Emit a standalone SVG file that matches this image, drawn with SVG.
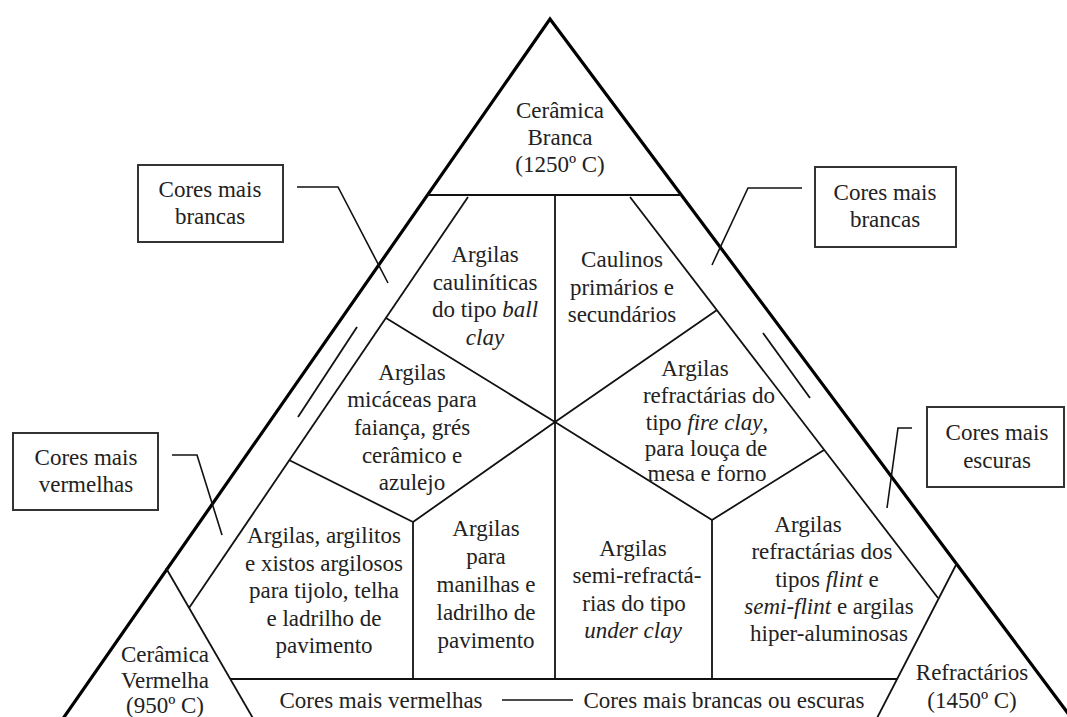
<svg xmlns="http://www.w3.org/2000/svg" width="1067" height="717" viewBox="0 0 1067 717">
<style>
.outer{fill:none;stroke:#000;stroke-width:3.2;stroke-linejoin:miter}
.ln{fill:none;stroke:#111;stroke-width:1.8}
.cl{fill:none;stroke:#111;stroke-width:1.6}
.box{fill:#fff;stroke:#333;stroke-width:2}
text{font-family:"Liberation Serif","Times New Roman",serif;font-size:23px;fill:#222;text-anchor:middle}
.i{font-style:italic}
</style>
<rect width="1067" height="717" fill="#fff"/>
<g id="connectors">
<path class="outer" d="M62,720 L550,19 L1073,720"/>
<path class="ln" d="M427,195 H681"/>
<path class="ln" d="M468,197 L189,608"/>
<path class="ln" d="M630,197 L938,598"/>
<path class="ln" d="M555,195 V679"/>
<path class="ln" d="M386,318 L555,422 L712,520"/>
<path class="ln" d="M717,310 L555,422 L413,522"/>
<path class="ln" d="M289,460 L413,522 V679"/>
<path class="ln" d="M824,450 L712,520 V679"/>
<path class="ln" d="M230,679 H897"/>
<path class="ln" d="M166,568 L254,720"/>
<path class="ln" d="M957,563 L876,720"/>
<path class="ln" d="M357,327 L298,417"/>
<path class="ln" d="M763,333 L810,398"/>
<path class="cl" d="M297,187 H338 L388,283"/>
<path class="cl" d="M802,188 H748 L712,265"/>
<path class="cl" d="M172,455 H197 L222,535"/>
<path class="cl" d="M912,428 H898 L887,508"/>
<path class="cl" d="M502,700 H573"/>
</g>
<g id="ceramica-branca">
<text x="560" y="118">Cerâmica</text>
<text x="560" y="145">Branca</text>
<text x="560" y="172">(1250º C)</text>
</g>
<g id="ball-clay">
<text x="485" y="262">Argilas</text>
<text x="485" y="290">cauliníticas</text>
<text x="485" y="317">do tipo <tspan class="i">ball</tspan></text>
<text x="485" y="345" class="i">clay</text>
</g>
<g id="caulinos">
<text x="622" y="267">Caulinos</text>
<text x="622" y="295">primários e</text>
<text x="622" y="322">secundários</text>
</g>
<g id="micaceas">
<text x="412" y="380">Argilas</text>
<text x="412" y="407">micáceas para</text>
<text x="412" y="435">faiança, grés</text>
<text x="412" y="463">cerâmico e</text>
<text x="412" y="490">azulejo</text>
</g>
<g id="fire-clay">
<text x="695" y="376">Argilas</text>
<text x="709" y="403">refractárias do</text>
<text x="707" y="430">tipo <tspan class="i">fire clay</tspan>,</text>
<text x="706" y="456">para louça de</text>
<text x="707" y="481">mesa e forno</text>
</g>
<g id="tijolo">
<text x="324" y="543">Argilas, argilitos</text>
<text x="324" y="571">e xistos argilosos</text>
<text x="324" y="598">para tijolo, telha</text>
<text x="324" y="626">e ladrilho de</text>
<text x="324" y="653">pavimento</text>
</g>
<g id="manilhas">
<text x="486" y="536">Argilas</text>
<text x="486" y="564">para</text>
<text x="486" y="592">manilhas e</text>
<text x="486" y="620">ladrilho de</text>
<text x="486" y="648">pavimento</text>
</g>
<g id="under-clay">
<text x="633" y="556">Argilas</text>
<text x="637" y="583">semi-refractá-</text>
<text x="634" y="611">rias do tipo</text>
<text x="633" y="638" class="i">under clay</text>
</g>
<g id="flint">
<text x="808" y="532">Argilas</text>
<text x="822" y="559">refractárias dos</text>
<text x="827" y="587">tipos <tspan class="i">flint</tspan>  e</text>
<text x="829" y="614"><tspan class="i">semi-flint</tspan> e argilas</text>
<text x="829" y="641">hiper-aluminosas</text>
</g>
<g id="ceramica-vermelha">
<text x="165" y="662">Cerâmica</text>
<text x="165" y="688">Vermelha</text>
<text x="165" y="713">(950º C)</text>
</g>
<g id="refractarios">
<text x="972" y="680">Refractários</text>
<text x="972" y="708">(1450º C)</text>
</g>
<g id="bottom-band">
<text x="381" y="708">Cores mais vermelhas</text>
<text x="724" y="708">Cores mais brancas ou escuras</text>
</g>
<g id="box-tl">
<rect class="box" x="138" y="165" width="145" height="77"/>
<text x="210" y="197">Cores mais</text>
<text x="210" y="224">brancas</text>
</g>
<g id="box-tr">
<rect class="box" x="815" y="167" width="141" height="80"/>
<text x="885" y="200">Cores mais</text>
<text x="885" y="227">brancas</text>
</g>
<g id="box-l">
<rect class="box" x="13" y="433" width="145" height="77"/>
<text x="86" y="465">Cores mais</text>
<text x="86" y="492">vermelhas</text>
</g>
<g id="box-r">
<rect class="box" x="927" y="407" width="137" height="80"/>
<text x="997" y="440">Cores mais</text>
<text x="997" y="468">escuras</text>
</g>
</svg>
